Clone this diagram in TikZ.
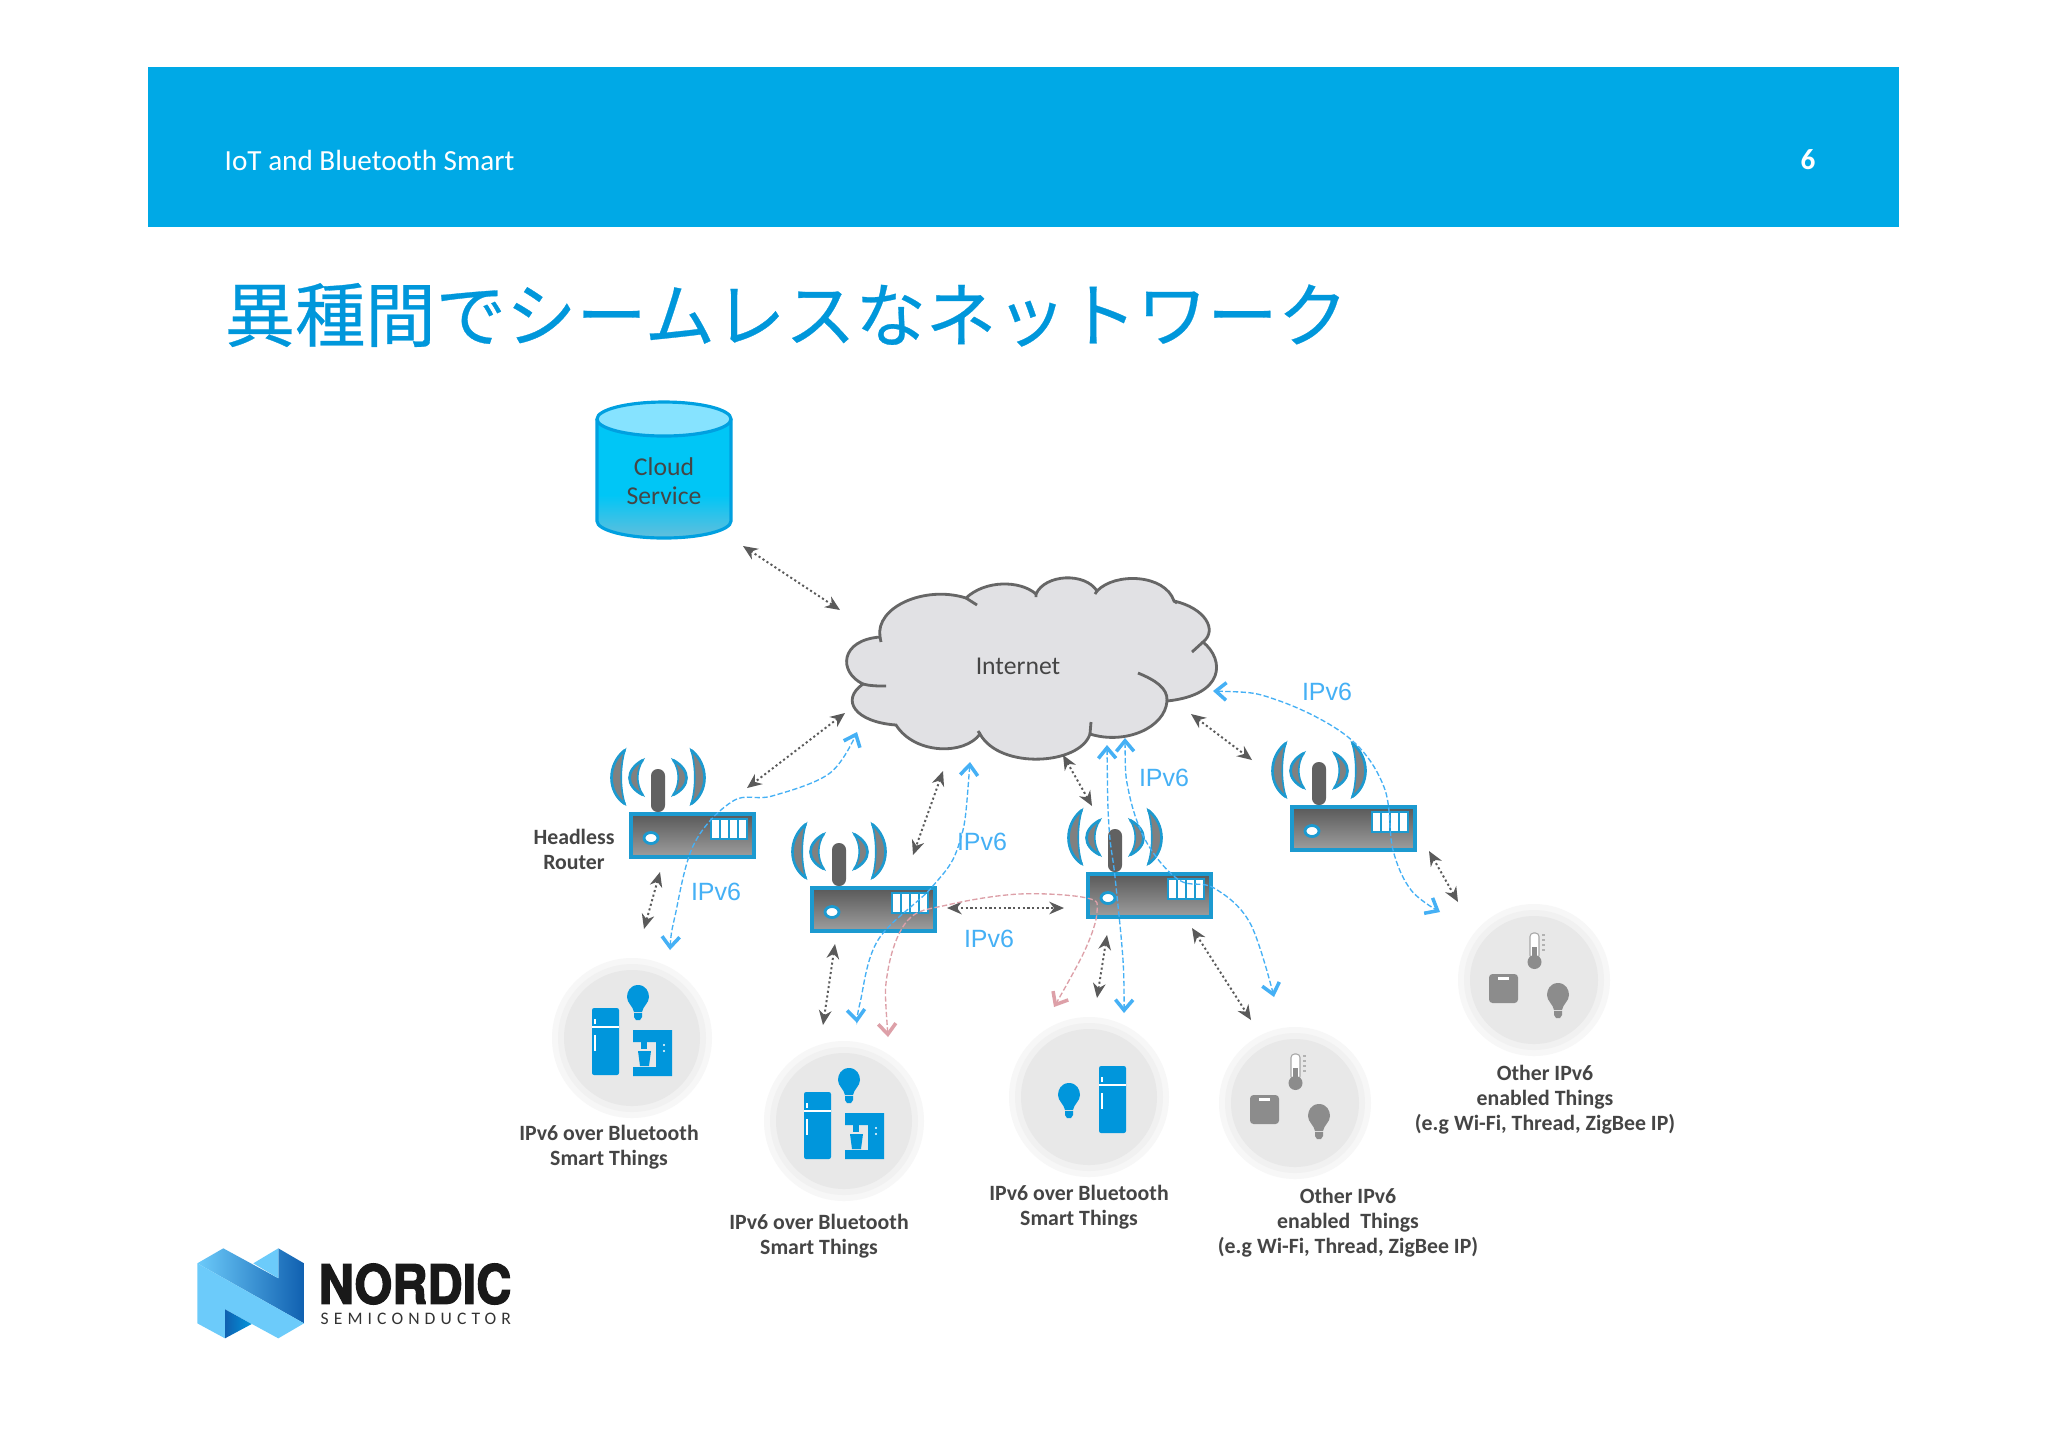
\documentclass[tikz,border=0pt]{standalone}
\usepackage{fontspec}
\setmainfont{Carlito}
\newfontfamily\cjk[FakeBold=0.4]{Noto Sans CJK JP}
\newfontfamily\arialish{Liberation Sans}
\newfontfamily\logofont[FakeStretch=0.9,FakeBold=2.4]{TeX Gyre Heros}
\newfontfamily\logosub[LetterSpace=29]{Carlito}
\usetikzlibrary{arrows.meta, positioning, calc}
\definecolor{nordicblue}{HTML}{00A9E6}
\definecolor{titleblue}{HTML}{0097DB}
\definecolor{iconblue}{HTML}{0096DC}
\definecolor{iconshade}{HTML}{8C8C8C}
\definecolor{linkgrey}{HTML}{5A5A5A}
\definecolor{ipblue}{HTML}{45B0F5}
\definecolor{pinkroute}{HTML}{DDA0A8}
\definecolor{routeredge}{HTML}{1C9AD0}
\definecolor{cloudgrey}{HTML}{E1E1E4}
\definecolor{cloudedge}{HTML}{666666}
\definecolor{labelgrey}{HTML}{454545}
\definecolor{cylblue}{HTML}{00C6F6}
\definecolor{cyllow}{HTML}{62BEDC}
\definecolor{cyltop}{HTML}{86E3FF}
\definecolor{cyledge}{HTML}{00A0E0}
\definecolor{logolight}{HTML}{6CCBFA}
\definecolor{logodark}{HTML}{1060B0}
\tikzset{
  dotlink/.style={linkgrey, line width=0.55pt, dash pattern=on 0.6pt off 0.75pt, {Stealth[length=4.2pt,width=3.6pt]}-{Stealth[length=4.2pt,width=3.6pt]}},
  iplink/.style={ipblue, line width=0.38pt, dash pattern=on 1.5pt off 0.7pt, {Straight Barb[length=3pt,width=5pt,line width=1pt]}-{Straight Barb[length=3pt,width=5pt,line width=1pt]}},
  pinklink/.style={iplink, pinkroute},
  iplabel/.style={ipblue, inner sep=0pt, font=\arialish\fontsize{7.1pt}{8pt}\selectfont},
  thinglabel/.style={labelgrey, align=center, inner sep=0pt, font=\bfseries\fontsize{6.2pt}{7.1pt}\selectfont},
  plainlabel/.style={labelgrey, align=center, inner sep=0pt, font=\fontsize{7.3pt}{8.3pt}\selectfont},
  routerbox/.style={draw=routeredge, line width=1pt, top color=black!65, bottom color=black!38, minimum width=1.23cm, minimum height=0.43cm, inner sep=0pt},
  thingdisc/.style={circle, fill=black!3, minimum size=2*#1*0.01cm, inner sep=0pt},
  pics/radio/.style={code={
    \foreach \m in {1,-1} {
      \begin{scope}[shift={(27,0)}, xscale=\m]
        \filldraw[fill=black!50, draw=routeredge, line width=0.45pt] (-33,-64) .. controls (-51,-50) and (-51,-22) .. (-33,-10) .. controls (-38,-25) and (-38,-48) .. cycle;
        \draw[routeredge, line width=0.75pt] (-33,-64) .. controls (-51,-50) and (-51,-22) .. (-33,-10);
        \filldraw[fill=black!50, draw=routeredge, line width=0.45pt] (-15,-54) .. controls (-33,-44) and (-33,-28) .. (-15,-19) .. controls (-22,-30) and (-22,-43) .. cycle;
        \draw[routeredge, line width=0.75pt] (-15,-54) .. controls (-33,-44) and (-33,-28) .. (-15,-19);
      \end{scope}
    }
    \fill[black!62, rounded corners=1.9pt] (20,-45) rectangle (34,-2);
    \filldraw[fill=white, draw=routeredge, line width=0.8pt] (80,5) rectangle (116,25);
    \foreach \i in {89,98,107} \draw[routeredge, line width=0.8pt] (\i,5) -- (\i,25);
    \filldraw[fill=white, draw=routeredge, line width=0.8pt] (20,24) ellipse[x radius=7, y radius=5.5];
  }},
  pics/fridge/.style={code={
    \fill[iconblue, rounded corners=0.6pt] (0,0) rectangle (27,67);
    \draw[white, line width=0.3pt] (0,19) -- (27,19);
    \draw[white, line width=0.3pt] (3,11) -- (3,16) (3,27) -- (3,43);
  }},
  pics/bulb/.style={code={
    \fill[#1] (0,0) .. controls (8,0) and (11,7) .. (11,12) .. controls (11,18) and (5,21) .. (4,27) -- (-4,27) .. controls (-5,21) and (-11,18) .. (-11,12) .. controls (-11,7) and (-8,0) .. (0,0) -- cycle;
    \fill[#1] (-4,28) -- (4,28) -- (4,32) -- (2,35) -- (-2,35) -- (-4,32) -- cycle;
  }},
  pics/coffee/.style={code={
    \fill[iconblue] (0,0) -- (39,0) -- (39,46) -- (0,46) -- (0,37) -- (23,37) -- (23,12) -- (0,12) -- cycle;
    \fill[iconblue] (8,12) rectangle (14,19);
    \fill[iconblue] (5,21) -- (18,21) -- (16,36) -- (7,36) -- cycle;
    \fill[white] (31,15) circle[radius=1.1] (31,21) circle[radius=1.1];
  }},
  pics/scalebox/.style={code={
    \fill[iconshade, rounded corners=1pt] (0,0) rectangle (29,29);
    \fill[white] (9,3) rectangle (20,6);
  }},
  pics/thermo/.style={code={
    \draw[black!35, fill=white, line width=0.3pt, rounded corners=1pt] (1,0) rectangle (10,26);
    \fill[iconshade] (3,14) rectangle (8,28);
    \fill[iconshade] (5.5,29) circle[radius=7];
    \foreach \j in {2,7,12,17} \draw[black!30, line width=0.3pt] (13,\j) -- (16,\j);
  }},
}
\begin{document}
\begin{tikzpicture}[x=0.01cm, y=-0.01cm]
  \useasboundingbox (0,0) rectangle (2048,1447);
  \fill[white] (0,0) rectangle (2048,1447);

  % header
  \fill[nordicblue] (148,67) rectangle (1899,227);
  \node[anchor=west, white, inner sep=0pt, font=\fontsize{8.3pt}{10pt}\selectfont] (deck) at (224,160) {IoT and Bluetooth Smart};
  \node[white, inner sep=0pt, font=\bfseries\fontsize{8.3pt}{10pt}\selectfont] (pageno) at (1808,160) {6};
  \node[anchor=west, titleblue, inner sep=0pt, font=\cjk\fontsize{20pt}{22pt}\selectfont] (slidetitle) at (224,315) {異種間でシームレスなネットワーク};

  % cloud service
  \fill[cylblue] (597,419) -- (597,521) arc[start angle=180, end angle=0, x radius=67, y radius=17] -- (731,419) -- cycle;
  \shade[top color=cylblue, bottom color=cyllow] (597,495) -- (597,521) arc[start angle=180, end angle=0, x radius=67, y radius=17] -- (731,495) -- cycle;
  \draw[cyledge, line width=0.9pt] (597,419) -- (597,521) arc[start angle=180, end angle=0, x radius=67, y radius=17] -- (731,419);
  \filldraw[fill=cyltop, draw=cyledge, line width=0.9pt] (664,419) ellipse[x radius=67, y radius=17];
  \node[plainlabel] (cloudsvc) at (664,481) {Cloud\\Service};

  % internet
  \filldraw[fill=cloudgrey, draw=cloudedge, line width=0.8pt]
    (863,684) .. controls (838,672) and (840,640) .. (880,637)
    .. controls (875,607) and (925,585) .. (966,598)
    .. controls (985,580) and (1020,580) .. (1036,594)
    .. controls (1045,574) and (1085,572) .. (1097,591)
    .. controls (1115,572) and (1165,574) .. (1174,601)
    .. controls (1205,608) and (1218,630) .. (1203,642)
    .. controls (1225,660) and (1225,695) .. (1167,701)
    .. controls (1165,728) and (1125,745) .. (1090,734)
    .. controls (1080,765) and (1000,770) .. (980,734)
    .. controls (965,755) and (915,755) .. (896,725)
    .. controls (855,722) and (840,700) .. (863,684) -- cycle;
  \draw[cloudedge, line width=0.8pt] (863,684) .. controls (870,686) and (878,686) .. (886,686)
    (880,637) -- (881,642) (966,598) -- (977,605) (1036,594) -- (1036,597)
    (1097,591) -- (1095,594) (1174,601) -- (1177,603) (1203,642) -- (1192,652)
    (1167,701) .. controls (1168,688) and (1155,680) .. (1138,673)
    (1090,734) -- (1091,722) (980,734) -- (978,731);
  \node[plainlabel] (internet) at (1018,666) {Internet};

  % routers
  \node[routerbox] (routerA) at (692.5,835.5) {};
  \node[routerbox] (routerB) at (873.5,909.5) {};
  \node[routerbox] (routerC) at (1149.5,895.5) {};
  \node[routerbox] (routerD) at (1353.5,828.5) {};
  \pic at (631,814) {radio};
  \pic at (812,888) {radio};
  \pic at (1088,874) {radio};
  \pic at (1292,807) {radio};
  \node[thinglabel] (headless) at (574,849) {Headless\\Router};

  % things
  \foreach \nm/\cx/\cy/\rd in {thingA/632/1038/80, thingB/844/1121/80, thingC/1089/1097/80, thingD/1295/1103/76, thingE/1534/980/76} {
    \node[thingdisc=\rd] (\nm) at (\cx,\cy) {};
    \fill[black!5.5] (\nm) circle[radius=\rd-6];
    \fill[black!9] (\nm) circle[radius=\rd-12];
  }
  \pic at (592,1008) {fridge};
  \pic at (638,985) {bulb=iconblue};
  \pic at (633,1030) {coffee};
  \pic at (804,1092) {fridge};
  \pic at (849,1068) {bulb=iconblue};
  \pic at (845,1113) {coffee};
  \pic at (1069,1083) {bulb=iconblue};
  \pic at (1099,1066) {fridge};
  \pic at (1250,1095) {scalebox};
  \pic at (1290,1054) {thermo};
  \pic at (1319,1104) {bulb=iconshade};
  \pic at (1489,974) {scalebox};
  \pic at (1529,933) {thermo};
  \pic at (1558,983) {bulb=iconshade};

  \node[thinglabel] (labelA) at (609,1147) {IPv6 over Bluetooth\\Smart Things};
  \node[thinglabel] (labelB) at (819,1236) {IPv6 over Bluetooth\\Smart Things};
  \node[thinglabel] (labelC) at (1079,1207) {IPv6 over Bluetooth\\Smart Things};
  \node[thinglabel] (labelD) at (1348,1223) {Other IPv6\\enabled \ Things\\(e.g Wi-Fi, Thread, ZigBee IP)};
  \node[thinglabel] (labelE) at (1545,1100) {Other IPv6\\enabled Things\\(e.g Wi-Fi, Thread, ZigBee IP)};

  % grey links
  \coordinate (svcEnd) at (743,546);   \coordinate (netSvc) at (840,610);
  \coordinate (netA) at (845,713);     \coordinate (routerAup) at (747,788);
  \coordinate (routerAdn) at (660,872);\coordinate (thingAup) at (644,929);
  \coordinate (netB) at (943,771);     \coordinate (routerBup) at (913,855);
  \coordinate (netC) at (1063,755);    \coordinate (routerCup) at (1092,806);
  \coordinate (netD) at (1191,714);    \coordinate (routerDup) at (1252,760);
  \coordinate (routerBrt) at (947,908);\coordinate (routerClf) at (1064,908);
  \coordinate (routerBdn) at (835,944);\coordinate (thingBup) at (823,1025);
  \coordinate (routerCdn) at (1107,935);\coordinate (thingCup) at (1097,998);
  \coordinate (routerCrt) at (1192,928);\coordinate (thingDup) at (1251,1020);
  \coordinate (routerDdn) at (1429,851);\coordinate (thingEup) at (1458,902);
  \foreach \p/\q in {svcEnd/netSvc, netA/routerAup, routerAdn/thingAup, netB/routerBup, netC/routerCup, netD/routerDup, routerBrt/routerClf, routerBdn/thingBup, routerCdn/thingCup, routerCrt/thingDup, routerDdn/thingEup}
    \draw[dotlink] (\p) -- (\q);

  % ipv6 routes
  \coordinate (ipAtop) at (857,732);  \coordinate (ipAend) at (670,950);
  \coordinate (ipBtop) at (970,762);  \coordinate (ipBend) at (857,1023);
  \coordinate (ipCtop) at (1107,745); \coordinate (ipCend) at (1124,1013);
  \coordinate (ipDtop) at (1125,738); \coordinate (ipDend) at (1274,997);
  \coordinate (ipEtop) at (1213,691); \coordinate (ipEend) at (1440,912);
  \coordinate (pinkL) at (888,1037);  \coordinate (pinkR) at (1054,1007);
  \draw[iplink] plot[smooth, tension=0.6] coordinates {(ipAend) (675,916) (694,844) (733,801) (772,796) (830,773) (ipAtop)};
  \draw[iplink] plot[smooth, tension=0.6] coordinates {(ipBtop) (959,844) (932,887) (878,940) (860,1003) (ipBend)};
  \draw[iplink] plot[smooth, tension=0.6] coordinates {(ipCtop) (1109,827) (1115,877) (1123,960) (ipCend)};
  \draw[iplink] plot[smooth, tension=0.6] coordinates {(ipDtop) (1129,793) (1147,843) (1179,880) (1214,888) (1250,923) (ipDend)};
  \draw[iplink] plot[smooth, tension=0.6] coordinates {(ipEtop) (1277,700) (1348,737) (1384,787) (1393,850) (1411,890) (ipEend)};
  \draw[pinklink] plot[smooth, tension=0.6] coordinates {(pinkL) (888,970) (908,920) (947,905) (1019,894) (1087,898) (1097,912) (1085,950) (pinkR)};

  \node[iplabel] (ipv6A) at (716,892) {IPv6};
  \node[iplabel] (ipv6B) at (982,842) {IPv6};
  \node[iplabel] (ipv6C) at (1164,778) {IPv6};
  \node[iplabel] (ipv6D) at (989,939) {IPv6};
  \node[iplabel] (ipv6E) at (1327,692) {IPv6};

  % logo
  \shade[left color=logolight, right color=logodark] (197.3,1263.3) -- (223.3,1248.3) -- (278.3,1278.3) -- (278.3,1248.3) -- (304,1263.3) -- (304,1323.3) -- cycle;
  \fill[logolight] (197.3,1263.3) -- (304,1323.3) -- (278.3,1338.3) -- (225,1309.3) -- (225,1338.3) -- (197.3,1323.3) -- cycle;
  \fill[logolight] (253.3,1263.3) -- (278.3,1248.3) -- (278.3,1278.3) -- cycle;
  \shade[left color=logodark, right color=iconblue] (225,1309.3) -- (251.7,1324) -- (225,1338.3) -- cycle;
  \node[anchor=west, black!90, inner sep=0pt, font=\logofont\bfseries\fontsize{15.4pt}{17pt}\selectfont] (logoword) at (318,1284) {NORDIC};
  \node[anchor=west, black!80, inner sep=0pt, font=\logosub\fontsize{5pt}{6pt}\selectfont] (logosub) at (320,1319) {SEMICONDUCTOR};
\end{tikzpicture}
\end{document}
